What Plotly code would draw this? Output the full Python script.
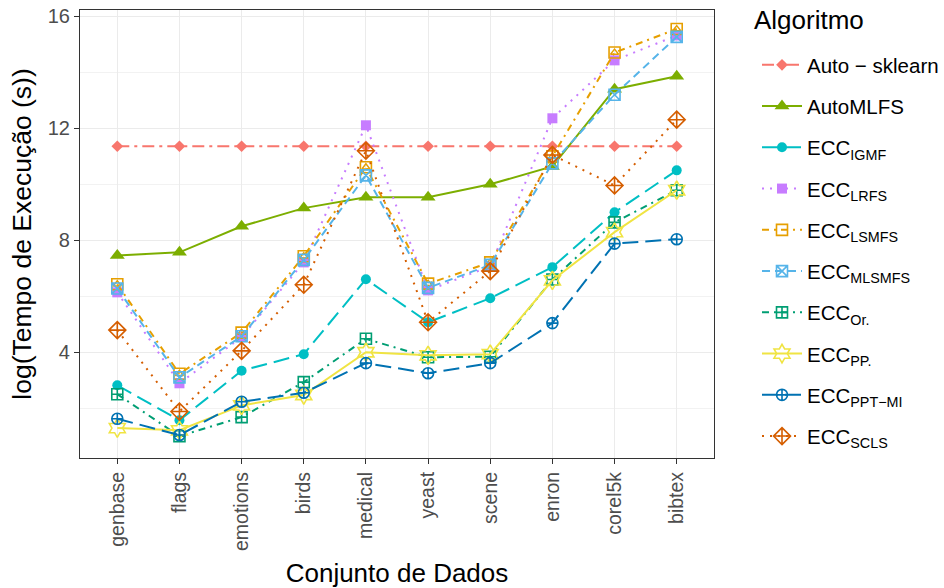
import plotly.graph_objects as go

# Datasets (x axis)
datasets = ["genbase", "flags", "emotions", "birds", "medical",
            "yeast", "scene", "enron", "corel5k", "bibtex"]

# log(execution time) per algorithm
auto_sklearn = [11.36, 11.36, 11.36, 11.36, 11.36, 11.36, 11.36, 11.36, 11.36, 11.36]
automlfs     = [7.46, 7.57, 8.50, 9.15, 9.54, 9.54, 10.00, 10.64, 13.40, 13.86]
ecc_igmf     = [2.82, 1.57, 3.34, 3.93, 6.61, 5.07, 5.93, 7.04, 9.00, 10.50]
ecc_lrfs     = [6.14, 2.89, 4.54, 7.21, 12.11, 6.21, 7.07, 12.36, 14.43, 15.32]
ecc_lsmfs    = [6.43, 3.23, 4.70, 7.43, 10.61, 6.45, 7.21, 11.00, 14.71, 15.55]
ecc_mlsmfs   = [6.28, 3.10, 4.57, 7.30, 10.32, 6.30, 7.12, 10.75, 13.20, 15.27]
ecc_or       = [2.50, 1.00, 1.68, 2.93, 4.48, 3.82, 3.84, 6.60, 8.64, 9.79]
ecc_pp       = [1.29, 1.21, 2.10, 2.47, 4.00, 3.89, 3.93, 6.57, 8.29, 9.79]
ecc_pptmi    = [1.62, 1.04, 2.23, 2.55, 3.61, 3.25, 3.61, 5.04, 7.88, 8.04]
ecc_scls     = [4.79, 1.88, 4.05, 6.41, 11.20, 5.07, 6.90, 11.05, 9.96, 12.31]

series = [
    # name, values, colour, dash, symbol, size, filled
    ("Auto − sklearn", auto_sklearn, "#F8766D", "12px,5px,3px,5px", "diamond", 9, True),
    ("AutoMLFS", automlfs, "#7CAE00", "solid", "triangle-up", 13, True),
    ("ECC<sub>IGMF</sub>", ecc_igmf, "#00BFC4", "16px,7px", "circle", 10, True),
    ("ECC<sub>LRFS</sub>", ecc_lrfs, "#C77CFF", "2px,6px", "square", 10, True),
    ("ECC<sub>LSMFS</sub>", ecc_lsmfs, "#E69F00", "7px,5px,2px,5px", "square-open", 11, False),
    ("ECC<sub>MLSMFS</sub>", ecc_mlsmfs, "#56B4E9", "8px,5px", "square-x-open", 11, False),
    ("ECC<sub>Or.</sub>", ecc_or, "#009E73", "7px,5px,2px,5px", "square-cross-open", 11, False),
    ("ECC<sub>PP.</sub>", ecc_pp, "#F0E442", "solid", "hexagram-open", 14, False),
    ("ECC<sub>PPT−MI</sub>", ecc_pptmi, "#0072B2", "16px,7px", "circle-cross-open", 11, False),
    ("ECC<sub>SCLS</sub>", ecc_scls, "#D55E00", "2px,6px", "diamond-cross-open", 13, False),
]

fig = go.Figure()
for i, (name, vals, col, dash, sym, size, filled) in enumerate(series):
    fig.add_trace(go.Scatter(
        x=datasets, y=vals, name=name, mode="lines+markers",
        legendgroup=f"g{i}",
        line=dict(color=col, width=2, dash=dash),
        marker=dict(symbol=sym, size=size, color=col,
                    line=dict(color=col, width=0 if filled else 1.6)),
    ))
    if name == "ECC<sub>LSMFS</sub>":
        # triangle inside the square marker
        fig.add_trace(go.Scatter(
            x=datasets, y=vals, mode="markers", showlegend=False,
            legendgroup=f"g{i}", hoverinfo="skip",
            marker=dict(symbol="triangle-up-open", size=7, color=col,
                        line=dict(color=col, width=1.4)),
        ))

grid = "#EBEBEB"
axis_common = dict(
    showline=True, linecolor="#333333", linewidth=1.2, mirror=True,
    ticks="outside", ticklen=5, tickcolor="#333333", tickwidth=1.2,
    gridcolor=grid, gridwidth=1.4, zeroline=False,
)

fig.update_layout(
    width=944, height=588,
    margin=dict(l=80, r=230, t=10, b=130, autoexpand=False),
    plot_bgcolor="white", paper_bgcolor="white",
    font=dict(family="Liberation Sans", color="black"),
    legend=dict(
        font=dict(size=20.5, color="black"),
        xref="container", yref="container",
        x=757 / 944, xanchor="left", y=1 - 45 / 588, yanchor="top",
        tracegroupgap=11.6, itemwidth=40, maxheight=588,
        bgcolor="rgba(0,0,0,0)",
    ),
    annotations=[dict(
        text="Algoritmo", xref="paper", yref="paper",
        x=(752 - 80) / 634, y=1 + (10 - 20) / 448,
        xanchor="left", yanchor="middle", showarrow=False,
        font=dict(size=26, color="black"),
    )],
    xaxis=dict(
        **axis_common,
        type="category", range=[-0.6, 9.6], tickangle=-90,
        tickfont=dict(family="Liberation Sans", size=19.5, color="#4D4D4D"),
        title=dict(text="Conjunto de Dados", font=dict(size=26, color="black"), standoff=14),
    ),
    yaxis=dict(
        **axis_common,
        range=[0.22, 16.23], tickvals=[4, 8, 12, 16],
        tickfont=dict(family="Liberation Sans", size=20, color="#4D4D4D"),
        minor=dict(dtick=2, tick0=0, showgrid=True, gridcolor="#F2F2F2", gridwidth=1),
        title=dict(text="log(Tempo de Execução (s))", font=dict(size=26.5, color="black"), standoff=8),
    ),
)

fig.write_html("out.html")
